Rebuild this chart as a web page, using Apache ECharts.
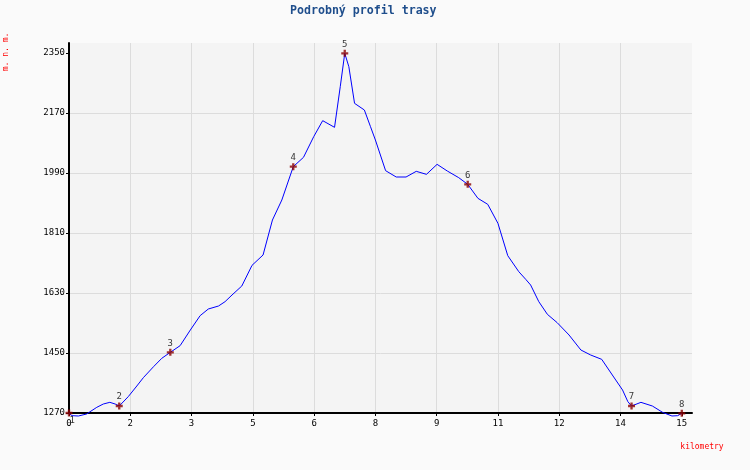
<!DOCTYPE html>
<html>
<head>
<meta charset="utf-8">
<script src="https://cdn.jsdelivr.net/npm/echarts@6/dist/echarts.min.js"></script>
<style>
html,body{margin:0;padding:0;background:#fafafa;}
#chart{width:750px;height:470px;}
</style>
</head>
<body>
<div id="chart"></div>
<script>
// Profile samples: distance (km) and elevation (m)
const distanceKm = [0, 0.07, 0.23, 0.43, 0.68, 0.84, 1.0, 1.13, 1.23, 1.45, 1.66, 1.82, 2.07, 2.27, 2.48, 2.72, 2.97, 3.21, 3.41, 3.66, 3.82, 3.99, 4.23, 4.48, 4.75, 4.98, 5.21, 5.49, 5.74, 5.99, 6.21, 6.50, 6.64, 6.75, 6.85, 6.99, 7.23, 7.38, 7.50, 7.75, 8.01, 8.25, 8.50, 8.75, 9.01, 9.26, 9.54, 9.76, 10.01, 10.25, 10.50, 10.74, 11.01, 11.18, 11.30, 11.50, 11.71, 11.95, 12.24, 12.53, 12.77, 13.04, 13.30, 13.55, 13.68, 13.77, 14.00, 14.28, 14.53, 14.76, 14.90, 15.0];
const elevationM = [1270, 1262, 1261, 1267, 1287, 1297, 1302, 1297, 1291, 1319, 1351, 1376, 1409, 1434, 1452, 1472, 1519, 1562, 1582, 1591, 1604, 1624, 1651, 1713, 1744, 1849, 1909, 2009, 2037, 2099, 2147, 2127, 2249, 2349, 2309, 2199, 2179, 2129, 2089, 1997, 1978, 1978, 1995, 1986, 2016, 1996, 1976, 1956, 1914, 1896, 1839, 1742, 1694, 1671, 1654, 1604, 1566, 1541, 1504, 1459, 1444, 1431, 1384, 1339, 1304, 1291, 1302, 1291, 1272, 1261, 1262, 1269];

// Waypoints
const waypointLabels = ['1', '2', '3', '4', '5', '6', '7', '8'];
const waypointKm = [0, 1.23, 2.48, 5.49, 6.75, 9.76, 13.77, 15.0];
const waypointElev = [1270, 1291, 1452, 2009, 2349, 1956, 1291, 1269];

// Axis ticks
const xTicks = [0, 1.5, 3, 4.5, 6, 7.5, 9, 10.5, 12, 13.5, 15];
const yTicks = [1270, 1450, 1630, 1810, 1990, 2170, 2350];

const titleText = 'Podrobný profil trasy';
const xAxisName = 'kilometry';
const yAxisName = 'm. n. m.';

const FONT = 'DejaVu Sans Mono';

const lineData = distanceKm.map((d, i) => [d, elevationM[i]]);
const wpData = waypointKm.map((d, i) => [d, waypointElev[i], waypointLabels[i]]);
// first waypoint's label sits below-right of its mark, the rest above
const wpAbove = wpData.slice(1);
const wpFirst = wpData.slice(0, 1);

const markerStyle = {
  type: 'scatter',
  symbol: 'path://M2,0H4V2H6V4H4V6H2V4H0V2H2Z',
  symbolSize: 7,
  itemStyle: { color: '#8b0000' },
  clip: false,
  z: 10
};

const chart = echarts.init(document.getElementById('chart'), null, { renderer: 'canvas' });
chart.setOption({
  backgroundColor: '#fafafa',
  animation: false,
  grid: {
    left: 69, top: 43, right: 58, bottom: 57,
    show: true, backgroundColor: '#f4f4f4', borderWidth: 0
  },
  xAxis: {
    type: 'value', min: 0, max: 15.25, interval: 1.5,
    axisLine: { show: true, onZero: false, lineStyle: { color: '#000', width: 2 } },
    axisTick: { show: true, length: 3, lineStyle: { color: '#000', width: 1 }, customValues: xTicks },
    axisLabel: {
      customValues: xTicks,
      formatter: v => String(Math.round(v)),
      color: '#000', fontFamily: FONT, fontSize: 9, margin: 6
    },
    splitLine: { show: true, showMinLine: false, showMaxLine: false, lineStyle: { color: '#dcdcdc', width: 1 } }
  },
  yAxis: {
    type: 'value', min: 1270, max: 2380, interval: 180,
    axisLine: { show: true, onZero: false, lineStyle: { color: '#000', width: 2 } },
    axisTick: { show: true, length: 3, lineStyle: { color: '#000', width: 1 }, customValues: yTicks },
    axisLabel: {
      customValues: yTicks,
      formatter: v => String(Math.round(v)),
      color: '#000', fontFamily: FONT, fontSize: 9, margin: 4
    },
    splitLine: { show: true, showMinLine: false, showMaxLine: false, lineStyle: { color: '#dcdcdc', width: 1 } }
  },
  series: [
    {
      type: 'line',
      data: lineData,
      showSymbol: false,
      clip: false,
      lineStyle: { color: '#0000ff', width: 1 },
      z: 2
    },
    Object.assign({}, markerStyle, {
      data: wpAbove,
      label: {
        show: true, position: 'top', distance: 1,
        formatter: p => p.value[2],
        color: '#000', fontFamily: FONT, fontSize: 9
      }
    }),
    Object.assign({}, markerStyle, {
      data: wpFirst,
      label: {
        show: true, position: 'insideTopLeft', offset: [-1, 2],
        formatter: p => p.value[2],
        color: '#000', fontFamily: FONT, fontSize: 9
      }
    })
  ],
  graphic: [
    {
      type: 'text', left: 290, top: 5,
      style: { text: titleText, fill: '#1f4e8c', font: 'bold 11.6px "DejaVu Sans Mono"' }
    },
    {
      type: 'text', x: 702, y: 447,
      style: { text: xAxisName, fill: '#ff0000', font: '8px "DejaVu Sans Mono"', textAlign: 'center', textVerticalAlign: 'middle' }
    },
    {
      type: 'text', x: 6, y: 52, rotation: Math.PI / 2,
      style: { text: yAxisName, fill: '#ff0000', font: '8px "DejaVu Sans Mono"', textAlign: 'center', textVerticalAlign: 'middle' }
    }
  ]
});
</script>
</body>
</html>
